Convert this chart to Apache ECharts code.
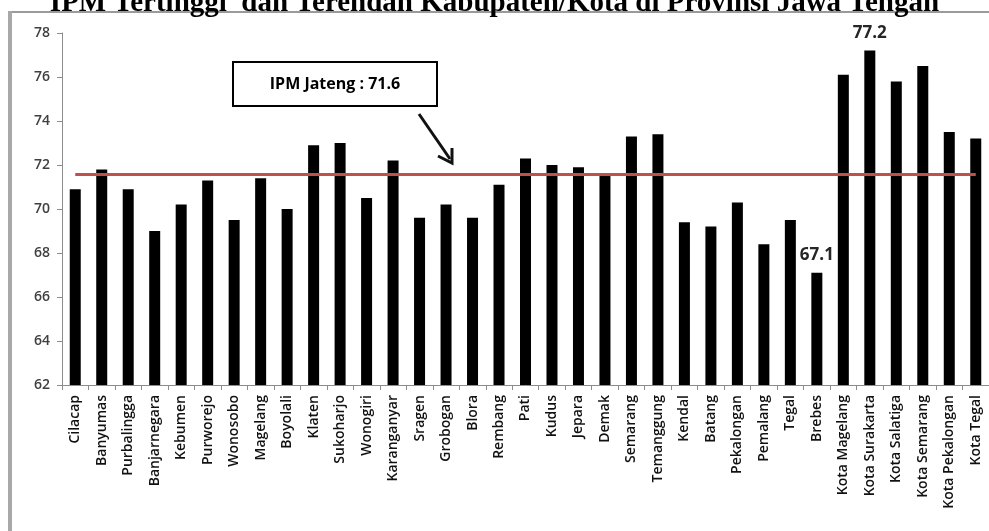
<!DOCTYPE html>
<html>
<head>
<meta charset="utf-8">
<script src="https://cdn.jsdelivr.net/npm/echarts@6/dist/echarts.min.js"></script>
<style>
  html, body { margin: 0; padding: 0; background: #fff; }
  #chart { width: 989px; height: 531px; }
</style>
</head>
<body>
<div id="chart"></div>
<script>
// IPM (Indeks Pembangunan Manusia) per kabupaten/kota, Jawa Tengah
const categories = [
  'Cilacap', 'Banyumas', 'Purbalingga', 'Banjarnegara', 'Kebumen', 'Purworejo',
  'Wonosobo', 'Magelang', 'Boyolali', 'Klaten', 'Sukoharjo', 'Wonogiri',
  'Karanganyar', 'Sragen', 'Grobogan', 'Blora', 'Rembang', 'Pati', 'Kudus',
  'Jepara', 'Demak', 'Semarang', 'Temanggung', 'Kendal', 'Batang', 'Pekalongan',
  'Pemalang', 'Tegal', 'Brebes', 'Kota Magelang', 'Kota Surakarta',
  'Kota Salatiga', 'Kota Semarang', 'Kota Pekalongan', 'Kota Tegal'
];
const ipmValues = [
  70.9, 71.8, 70.9, 69.0, 70.2, 71.3,
  69.5, 71.4, 70.0, 72.9, 73.0, 70.5,
  72.2, 69.6, 70.2, 69.6, 71.1, 72.3, 72.0,
  71.9, 71.5, 73.3, 73.4, 69.4, 69.2, 70.3,
  68.4, 69.5, 67.1, 76.1, 77.2,
  75.8, 76.5, 73.5, 73.2
];
const ipmJateng = 71.6;
const yTicks = [62, 64, 66, 68, 70, 72, 74, 76, 78];

const maxVal = Math.max(...ipmValues);
const minVal = Math.min(...ipmValues);

// only the highest and lowest bars carry a value label
const barData = ipmValues.map(v => ({
  value: v,
  label: { show: v === maxVal || v === minVal }
}));

const chart = echarts.init(document.getElementById('chart'));
chart.setOption({
  backgroundColor: '#ffffff',
  animation: false,
  grid: { left: 62, right: 0, top: 33, bottom: 146 },
  xAxis: {
    type: 'category',
    data: categories,
    axisLine: { lineStyle: { color: '#8c8c8c', width: 1 } },
    axisTick: { show: true, length: 5, lineStyle: { color: '#8c8c8c' } },
    axisLabel: {
      rotate: 90,
      interval: 0,
      margin: 10,
      color: '#111',
      fontFamily: 'Open Sans',
      fontSize: 14,
      fontWeight: 600
    }
  },
  yAxis: {
    type: 'value',
    min: yTicks[0],
    max: yTicks[yTicks.length - 1],
    interval: 2,
    splitLine: { show: false },
    axisLine: { show: true, lineStyle: { color: '#8c8c8c', width: 1 } },
    axisTick: { show: true, length: 5, lineStyle: { color: '#8c8c8c' } },
    axisLabel: {
      margin: 12,
      color: '#404040',
      fontFamily: 'Open Sans',
      fontSize: 14,
      fontWeight: 600
    }
  },
  series: [{
    type: 'bar',
    data: barData,
    barWidth: 11,
    itemStyle: { color: '#000000' },
    label: {
      position: 'top',
      distance: 9,
      formatter: '{c}',
      color: '#262626',
      fontFamily: 'Open Sans',
      fontSize: 17,
      fontWeight: 'bold'
    },
    markLine: {
      silent: true,
      symbol: 'none',
      label: { show: false },
      lineStyle: { color: '#c0504d', width: 3, type: 'solid' },
      data: [[
        { coord: [categories[0], ipmJateng] },
        { coord: [categories[categories.length - 1], ipmJateng] }
      ]]
    }
  }],
  graphic: [
    // outer frame
    { type: 'line', shape: { x1: 11, y1: 12, x2: 989, y2: 12 },
      style: { stroke: '#9a9a9a', lineWidth: 2 } },
    { type: 'line', shape: { x1: 10, y1: 11, x2: 10, y2: 531 },
      style: { stroke: '#a8a8a8', lineWidth: 4 } },
    // title
    { type: 'text', left: 'center', top: -11,
      style: {
        text: 'IPM Tertinggi  dan Terendah Kabupaten/Kota di Provinsi Jawa Tengah',
        font: 'bold 29px "Liberation Serif", "Times New Roman", serif',
        fill: '#000'
      } },
    // annotation box
    { type: 'rect', shape: { x: 233, y: 62, width: 204, height: 44 },
      style: { fill: '#fff', stroke: '#000', lineWidth: 2 } },
    { type: 'text', x: 335, y: 84,
      style: {
        text: 'IPM Jateng : ' + ipmJateng,
        font: 'bold 16px "Open Sans", sans-serif',
        fill: '#000', textAlign: 'center', textVerticalAlign: 'middle'
      } },
    // arrow pointing at the reference line
    { type: 'line', shape: { x1: 419, y1: 114, x2: 450, y2: 159 },
      style: { stroke: '#111', lineWidth: 3 } },
    { type: 'polyline', shape: { points: [[438, 156], [452, 163], [452, 148]] },
      style: { stroke: '#111', lineWidth: 3, fill: 'none' } }
  ]
});
</script>
</body>
</html>
